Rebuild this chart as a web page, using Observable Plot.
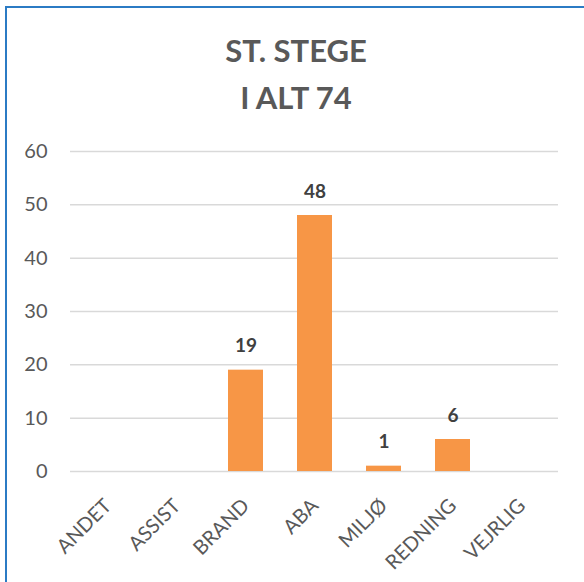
<!DOCTYPE html>
<html>
<head>
<meta charset="utf-8">
<script src="https://cdn.jsdelivr.net/npm/d3@7"></script>
<script src="https://cdn.jsdelivr.net/npm/@observablehq/plot@0.6"></script>
<style>
  html, body { margin: 0; padding: 0; background: #fff; }
  #wrap { position: relative; width: 584px; height: 582px; overflow: hidden; font-family: Lato, "Open Sans", sans-serif; }
  #frame { position: absolute; left: 5px; top: 6px; width: 600px; height: 600px; border-left: 2px solid #2B7BC4; border-top: 2px solid #2B7BC4; box-sizing: border-box; }
  #title { position: absolute; left: 0; width: 592px; top: 27px; text-align: center; font-weight: bold; font-size: 31px; line-height: 47px; color: #595959; }
  #chart { position: absolute; left: 0; top: 0; }
</style>
</head>
<body>
<div id="wrap">
  <div id="frame"></div>
  <div id="chart"></div>
  <div id="title">ST. STEGE<br>I ALT 74</div>
</div>
<script>
const categories = ["ANDET", "ASSIST", "BRAND", "ABA", "MILJØ", "REDNING", "VEJRLIG"];
const values = [0, 0, 19, 48, 1, 6, 0];
const yTicks = [0, 10, 20, 30, 40, 50, 60];

const data = categories.map((c, i) => ({cat: c, val: values[i]}));
const labeled = data.filter(d => d.val > 0);

const chart = Plot.plot({
  width: 584,
  height: 582,
  marginLeft: 70,
  marginRight: 26,
  marginTop: 151,
  marginBottom: 111,
  style: {fontFamily: "Lato, 'Open Sans', sans-serif", background: "transparent"},
  x: {domain: categories, paddingInner: 0.5, paddingOuter: 0.25, label: null},
  y: {domain: [0, 60], label: null},
  marks: [
    Plot.ruleY(yTicks, {stroke: "#d9d9d9", strokeWidth: 1.5}),
    Plot.barY(data, {x: "cat", y: "val", fill: "#F79646"}),
    Plot.text(labeled, {x: "cat", y: "val", text: d => String(d.val), dy: -24, fontWeight: "bold", fontSize: 19, fill: "#404040"}),
    Plot.axisY({ticks: yTicks, tickSize: 0, tickPadding: 23, fontSize: 20, color: "#595959", label: null}),
    Plot.axisX({tickSize: 0, tickPadding: 31, tickRotate: -45, fontSize: 20, color: "#595959", label: null})
  ]
});
document.getElementById("chart").appendChild(chart);
</script>
</body>
</html>
